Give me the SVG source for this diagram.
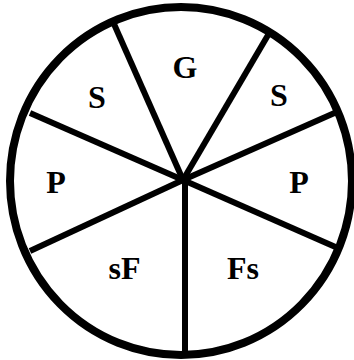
<svg xmlns="http://www.w3.org/2000/svg" width="354" height="360" viewBox="0 0 354 360">
<style>
.rim{fill:none;stroke:#000;stroke-width:8}
.spoke{stroke:#000;stroke-width:6;stroke-linecap:butt}
.lbl{font-family:"Liberation Serif",serif;font-weight:bold;font-size:32px;fill:#000;text-anchor:middle}
</style>
<rect width="354" height="360" fill="#fff"/>
<g id="rim"><ellipse class="rim" cx="181" cy="181" rx="171" ry="174"/></g>
<g id="connectors">
<line class="spoke" x1="183" y1="180" x2="114" y2="24"/>
<line class="spoke" x1="183" y1="180" x2="271" y2="30"/>
<line class="spoke" x1="183" y1="180" x2="339" y2="111"/>
<line class="spoke" x1="183" y1="180" x2="30" y2="113"/>
<line class="spoke" x1="183" y1="180" x2="30" y2="251"/>
<line class="spoke" x1="183" y1="180" x2="340" y2="249"/>
<line class="spoke" x1="185" y1="180" x2="185" y2="358"/>
</g>
<g id="G"><text class="lbl" x="185" y="78">G</text></g>
<g id="S-left"><text class="lbl" x="97" y="108">S</text></g>
<g id="S-right"><text class="lbl" x="279" y="106">S</text></g>
<g id="P-left"><text class="lbl" x="56" y="193">P</text></g>
<g id="P-right"><text class="lbl" x="299" y="193">P</text></g>
<g id="sF"><text class="lbl" x="124.5" y="279">sF</text></g>
<g id="Fs"><text class="lbl" x="243" y="279">Fs</text></g>
</svg>
